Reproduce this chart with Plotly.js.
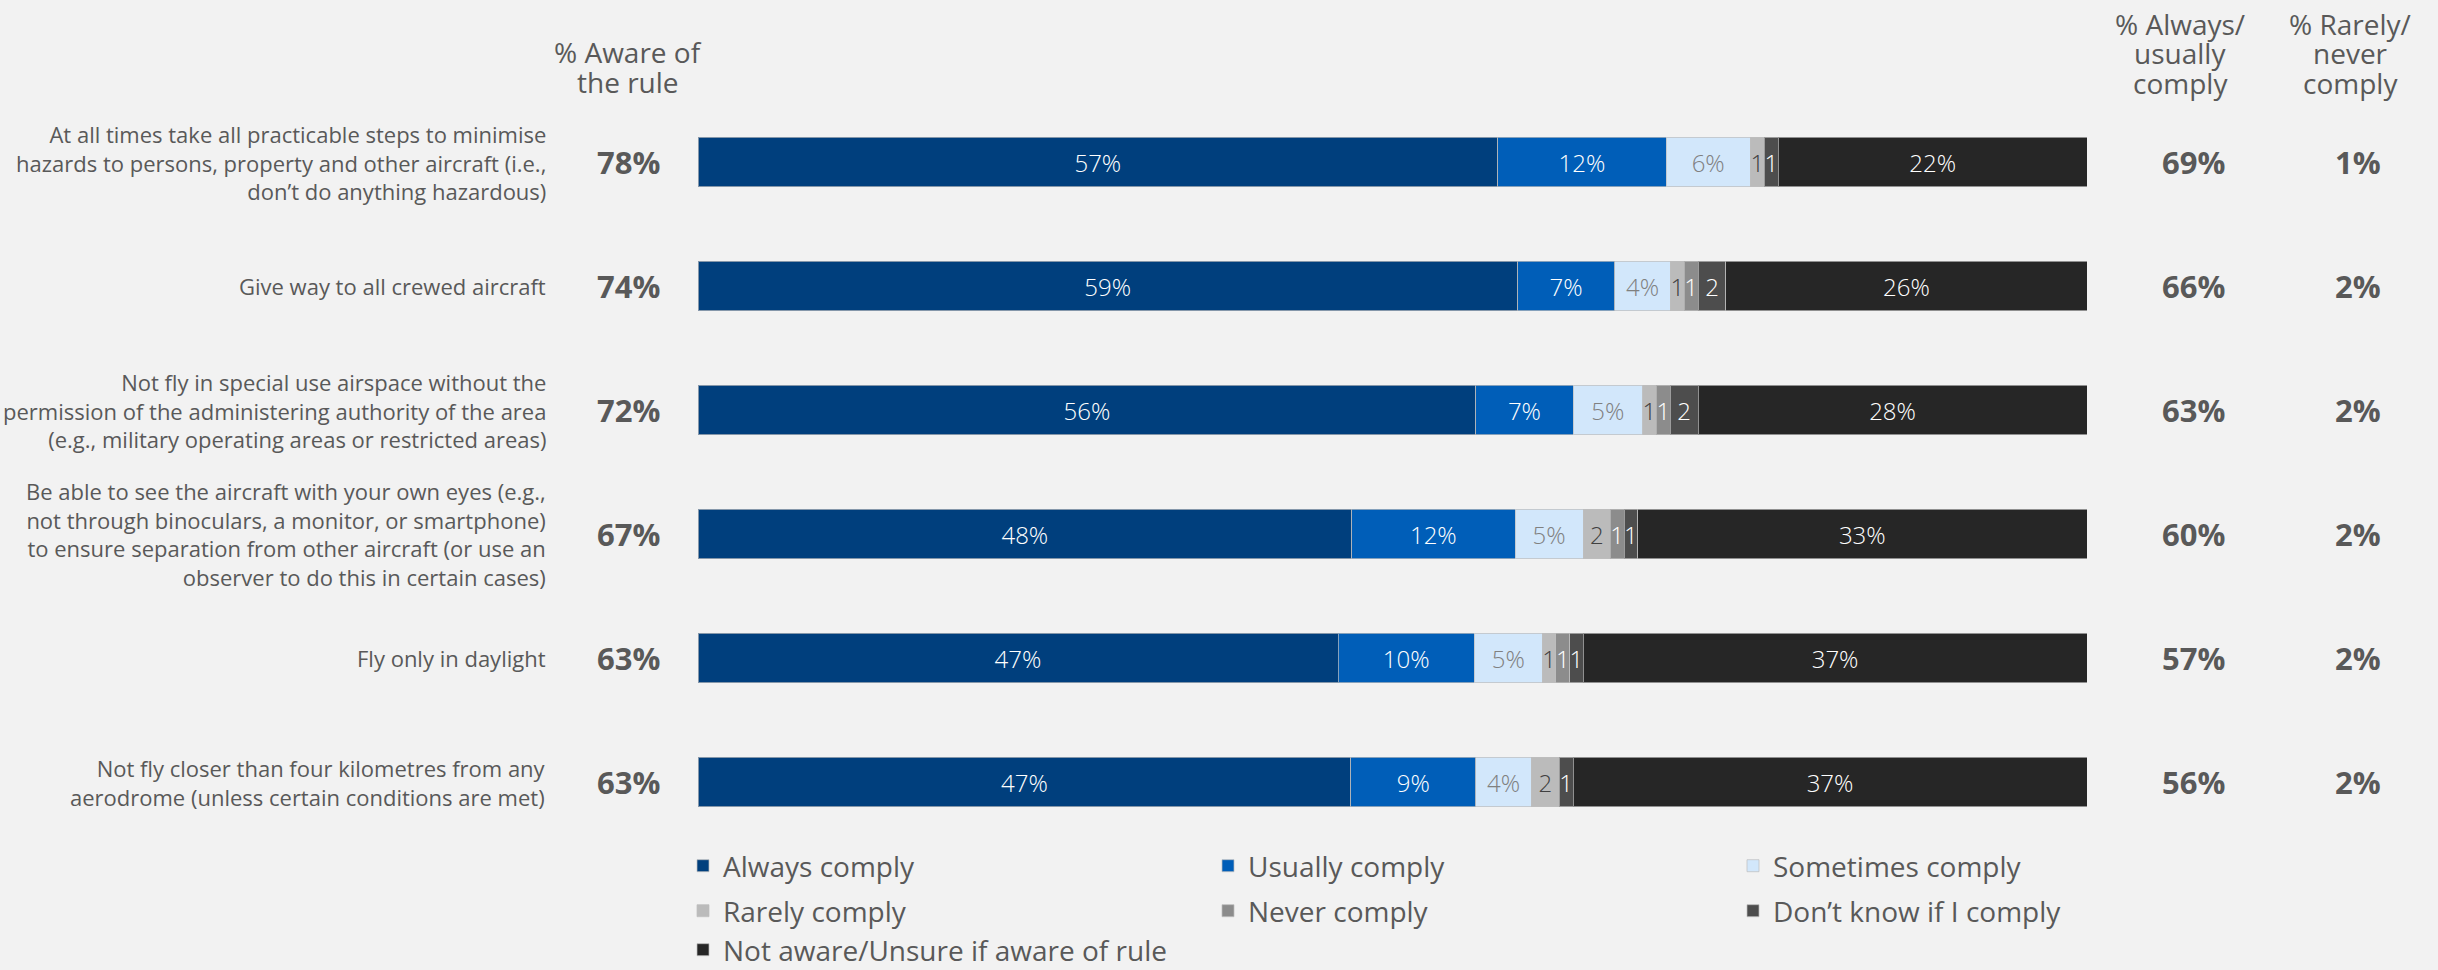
<!DOCTYPE html>
<html>
<head>
<meta charset="utf-8">
<script src="https://cdn.plot.ly/plotly-3.0.1.min.js"></script>
<style>
  html, body { margin: 0; padding: 0; background: #f2f2f2; }
  #chart { width: 2438px; height: 970px; }
</style>
</head>
<body>
<div id="chart"></div>
<script>
// ---------------- DATA ----------------
const categories = [
  "At all times take all practicable steps to minimise<br>hazards to persons, property and other aircraft (i.e.,<br>don’t do anything hazardous)",
  "Give way to all crewed aircraft",
  "Not fly in special use airspace without the<br>permission of the administering authority of the area<br>(e.g., military operating areas or restricted areas)",
  "Be able to see the aircraft with your own eyes (e.g.,<br>not through binoculars, a monitor, or smartphone)<br>to ensure separation from other aircraft (or use an<br>observer to do this in certain cases)",
  "Fly only in daylight",
  "Not fly closer than four kilometres from any<br>aerodrome (unless certain conditions are met)"
];

const alwaysComply    = [57, 59, 56, 48, 47, 47];
const usuallyComply   = [12,  7,  7, 12, 10,  9];
const sometimesComply = [ 6,  4,  5,  5,  5,  4];
const rarelyComply    = [ 1,  1,  1,  2,  1,  2];
const neverComply     = [ 0,  1,  1,  1,  1,  0];
const dontKnow        = [ 1,  2,  2,  1,  1,  1];
const notAware        = [22, 26, 28, 33, 37, 37];

const awareOfRule   = [78, 74, 72, 67, 63, 63];
const alwaysUsually = [69, 66, 63, 60, 57, 56];
const rarelyNever   = [ 1,  2,  2,  2,  2,  2];

const seriesNames = [
  "Always comply", "Usually comply", "Sometimes comply",
  "Rarely comply", "Never comply", "Don’t know if I comply",
  "Not aware/Unsure if aware of rule"
];
const seriesValues = [alwaysComply, usuallyComply, sometimesComply,
                      rarelyComply, neverComply, dontKnow, notAware];

const headerAware = "% Aware of<br>the rule";
const headerAlwaysUsually = "% Always/<br>usually<br>comply";
const headerRarelyNever = "% Rarely/<br>never<br>comply";

// ---------------- STYLE ----------------
const seriesColors = ["#003F7D", "#005EB8", "#D2E7FB", "#BBBBBB", "#8C8C8C", "#4D4D4D", "#262626"];
const labelColors  = ["#FFFFFF", "#FFFFFF", "#808080", "#404040", "#FFFFFF", "#FFFFFF", "#FFFFFF"];
const legendIds    = ["legend", "legend", "legend", "legend2", "legend2", "legend2", "legend3"];

const FONT = "Open Sans, Noto Sans, sans-serif";
const GREY = "#595959";

const W_PX = 2438, H_PX = 970;
const M = { l: 698, r: 351, t: 100, b: 126 };
const plotW = W_PX - M.l - M.r, plotH = H_PX - M.t - M.b;
const px2x = p => (p - M.l) / plotW;
const px2y = p => (M.t + plotH - p) / plotH;

function fmt(v) {
  if (v === 0) return "";
  return v >= 3 ? v + "%" : String(v);
}

const traces = seriesNames.map((name, i) => ({
  type: "bar",
  orientation: "h",
  name: name,
  y: categories,
  x: seriesValues[i],
  text: seriesValues[i].map(fmt),
  textposition: "inside",
  insidetextanchor: "middle",
  constraintext: "none",
  textangle: 0,
  textfont: { family: FONT, size: 24, color: labelColors[i], weight: 300 },
  marker: { color: seriesColors[i], line: { color: "rgba(190,190,190,0.7)", width: 1 } },
  legend: legendIds[i],
  hoverinfo: "skip"
}));

const annotations = [];
categories.forEach((c, i) => {
  annotations.push({
    xref: "paper", yref: "y", x: px2x(548), y: c, xanchor: "right", yanchor: "middle",
    align: "right", showarrow: false, text: c,
    font: { family: FONT, size: 22, color: GREY }
  });
  annotations.push({
    xref: "paper", yref: "y", x: px2x(628), y: c, xanchor: "center", yanchor: "middle",
    showarrow: false, text: awareOfRule[i] + "%",
    font: { family: FONT, size: 31, color: GREY, weight: 700 }
  });
  annotations.push({
    xref: "paper", yref: "y", x: px2x(2193), y: c, xanchor: "center", yanchor: "middle",
    showarrow: false, text: alwaysUsually[i] + "%",
    font: { family: FONT, size: 31, color: GREY, weight: 700 }
  });
  annotations.push({
    xref: "paper", yref: "y", x: px2x(2358), y: c, xanchor: "center", yanchor: "middle",
    showarrow: false, text: rarelyNever[i] + "%",
    font: { family: FONT, size: 31, color: GREY, weight: 700 }
  });
});

// column headers: one annotation per line, with tight line spacing
function addHeader(text, centerXpx, centerYpx) {
  const lines = text.split("<br>");
  const gap = 29.5;
  lines.forEach((ln, k) => {
    annotations.push({
      xref: "paper", yref: "paper", x: px2x(centerXpx),
      y: px2y(centerYpx + (k - (lines.length - 1) / 2) * gap),
      xanchor: "center", yanchor: "middle", showarrow: false, text: ln,
      font: { family: FONT, size: 28, color: GREY }
    });
  });
}
addHeader(headerAware, 628, 67);
addHeader(headerAlwaysUsually, 2180, 53);
addHeader(headerRarelyNever, 2350, 53);

function legendRow(centerPx) {
  return {
    orientation: "h", x: px2x(683), xanchor: "left", y: px2y(centerPx), yanchor: "middle",
    entrywidth: 480, entrywidthmode: "pixels", traceorder: "normal",
    font: { family: FONT, size: 28, color: GREY }, bgcolor: "rgba(0,0,0,0)",
    itemclick: false, itemdoubleclick: false
  };
}

const layout = {
  width: W_PX, height: H_PX,
  margin: { l: M.l, r: M.r, t: M.t, b: M.b, pad: 0, autoexpand: false },
  paper_bgcolor: "#f2f2f2", plot_bgcolor: "#f2f2f2",
  barmode: "stack", barnorm: "percent", bargap: 0.597,
  font: { family: FONT, color: GREY },
  xaxis: { visible: false, range: [0, 100], fixedrange: true },
  yaxis: { visible: false, type: "category", autorange: "reversed", fixedrange: true },
  showlegend: true,
  legend: legendRow(866),
  legend2: legendRow(911),
  legend3: legendRow(950),
  annotations: annotations
};

Plotly.newPlot("chart", traces, layout, { displayModeBar: false, staticPlot: true });
</script>
</body>
</html>
